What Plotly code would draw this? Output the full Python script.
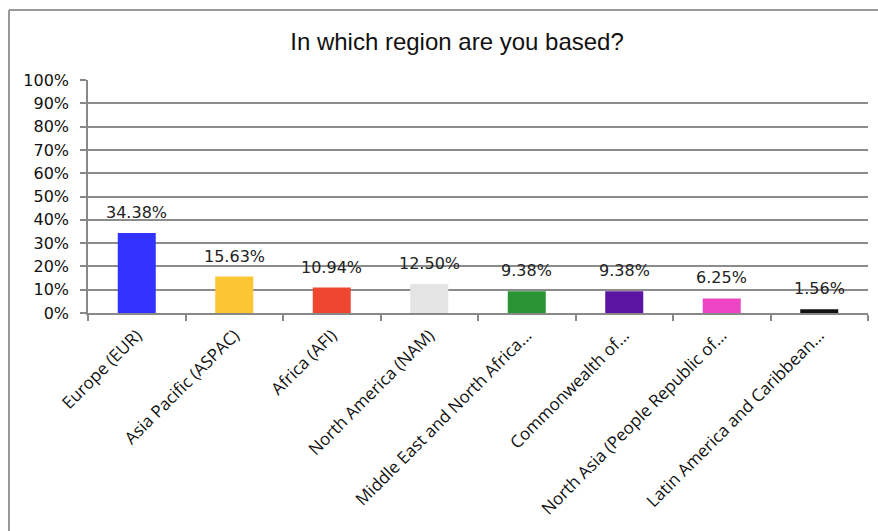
import plotly.graph_objects as go

categories = ["Europe (EUR)", "Asia Pacific (ASPAC)", "Africa (AFI)", "North America (NAM)",
              "Middle East and North Africa...", "Commonwealth of...",
              "North Asia (People Republic of...", "Latin America and Caribbean..."]
values = [34.38, 15.63, 10.94, 12.50, 9.38, 9.38, 6.25, 1.56]
labels = ["34.38%", "15.63%", "10.94%", "12.50%", "9.38%", "9.38%", "6.25%", "1.56%"]
colors = ["#3333FF", "#FBC632", "#EF4631", "#E4E4E4", "#2A9434", "#5B14A2", "#EE44C6", "#111111"]
yticks = [0, 10, 20, 30, 40, 50, 60, 70, 80, 90, 100]

fig = go.Figure(go.Bar(
    x=categories, y=values, marker=dict(color=colors, line=dict(width=0)),
    width=0.39, cliponaxis=False,
))

for cat, val, lab in zip(categories, values, labels):
    fig.add_annotation(x=cat, y=val, text=lab, showarrow=False, yanchor="bottom",
                       yshift=9, font=dict(family="DejaVu Sans", size=16, color="#222222"))

fig.update_layout(
    width=878, height=531,
    margin=dict(l=88, r=10, t=80, b=218, autoexpand=False),
    paper_bgcolor="white", plot_bgcolor="white",
    showlegend=False,
    title=dict(text="In which region are you based?", x=457/878, xanchor="center",
               y=1 - 42/531, yanchor="middle",
               font=dict(family="Liberation Sans", size=24, color="#111111")),
    xaxis=dict(tickangle=-45, tickson="boundaries", ticks="outside", ticklen=6,
               tickcolor="#888888", tickwidth=1.5, showline=True, linecolor="#888888",
               linewidth=1.5, showgrid=False, ticklabelstandoff=4, automargin=False,
               tickfont=dict(family="Open Sans", size=17, color="#111111")),
    yaxis=dict(range=[0, 100], tickvals=yticks, ticktext=[f"{v}%" for v in yticks],
               ticks="outside", ticklen=6, tickcolor="#888888", tickwidth=1.5,
               showline=True, linecolor="#888888", linewidth=1.5,
               showgrid=True, gridcolor="#8c8c8c", gridwidth=1.5, zeroline=False,
               ticklabelstandoff=8, automargin=False,
               tickfont=dict(family="DejaVu Sans", size=16, color="#111111")),
    bargap=0.61,
    shapes=[
        dict(type="line", xref="paper", yref="paper", x0=-79/780, x1=1.02, y0=1 + 70/233, y1=1 + 70/233,
             line=dict(color="#999999", width=2)),
        dict(type="line", xref="paper", yref="paper", x0=-79/780, x1=-79/780, y0=1 + 70/233, y1=-1.0,
             line=dict(color="#999999", width=2)),
    ],
)

fig.write_html("out.html")
